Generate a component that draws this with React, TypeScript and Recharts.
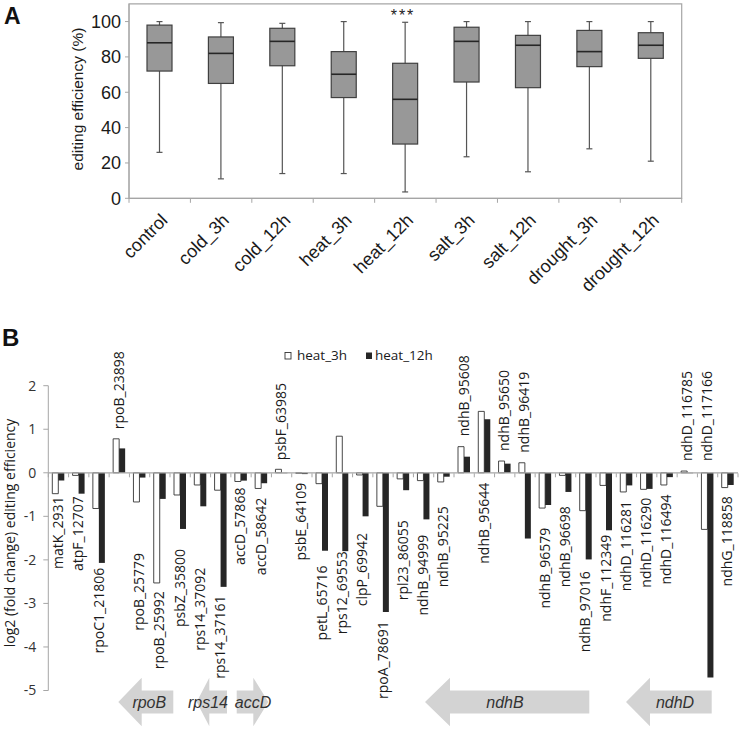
import React from 'react';
import { ComposedChart, Bar, Line, XAxis, YAxis, ReferenceLine, ReferenceArea, LabelList } from 'recharts';

// panel A: editing efficiency per condition (box plot)
const conditions = ['control', 'cold_3h', 'cold_12h', 'heat_3h', 'heat_12h', 'salt_3h', 'salt_12h', 'drought_3h', 'drought_12h'];
const boxMin = [26, 11, 14, 14, 3.6, 23.5, 15, 28, 21];
const boxQ1 = [72, 65, 75, 57, 30.7, 65.8, 62.6, 74.5, 79.2];
const boxMedian = [88, 82, 88.8, 70.2, 56, 88.8, 86.6, 83, 86.6];
const boxQ3 = [98, 91.3, 96.2, 83, 76.4, 96.8, 92.2, 95, 93.7];
const boxMax = [100, 99.4, 99, 100, 99.6, 100, 100, 100, 100];
const yTicksA = [0, 20, 40, 60, 80, 100];

// panel B: log2 fold change per editing site
const sites = [
  'matK_2931', 'atpF_12707', 'rpoC1_21806', 'rpoB_23898', 'rpoB_25779', 'rpoB_25992', 'psbZ_35800',
  'rps14_37092', 'rps14_37161', 'accD_57868', 'accD_58642', 'psbF_63985', 'psbE_64109', 'petL_65716',
  'rps12_69553', 'clpP_69942', 'rpoA_78691', 'rpl23_86055', 'ndhB_94999', 'ndhB_95225', 'ndhB_95608',
  'ndhB_95644', 'ndhB_95650', 'ndhB_96419', 'ndhB_96579', 'ndhB_96698', 'ndhB_97016', 'ndhF_112349',
  'ndhD_116281', 'ndhD_116290', 'ndhD_116494', 'ndhD_116785', 'ndhD_117166', 'ndhG_118858',
];
const heat3h = [-0.48, -0.06, -0.82, 0.78, -0.67, -2.53, -0.51, -0.28, -0.4, -0.2, -0.36, 0.08, -0.01, -0.25, 0.84, -0.05, -0.77, -0.14, -0.18, -0.21, 0.6, 1.41, 0.27, 0.23, -0.81, -0.06, -0.87, -0.29, -0.44, -0.38, -0.28, 0.04, -1.3, -0.34];
const heat12h = [-0.18, -0.48, -2.07, 0.56, -0.11, -0.6, -1.29, -0.77, -2.62, -0.18, -0.24, -0.01, -0.03, -1.79, -1.8, -1.0, -3.2, -0.4, -1.07, -0.09, 0.37, 1.23, 0.21, -1.51, -0.74, -0.44, -1.99, -1.32, -0.29, -0.37, -0.1, -0.01, -4.7, -0.28];
const yTicksB = [-5, -4, -3, -2, -1, 0, 1, 2];

// where each site label sits (in y units); >0 = label above, <0 = label below
const labelAnchor = [-0.545, -0.54, -2.18, 1.0, -1.84, -2.72, -1.75, -2.18, -2.82, -0.34, -0.57, 0.29, -0.23, -2.13, -1.8, -1.38, -3.41, -1.09, -1.42, -0.77, 0.84, -0.23, 0.5, 0.46, -1.26, -0.77, -2.26, -1.42, -0.65, -0.57, -0.5, 0.27, 0.27, -0.54];

const dataA = conditions.map((name, i) => ({
  name, min: boxMin[i], q1: boxQ1[i], median: boxMedian[i], q3: boxQ3[i], max: boxMax[i],
}));
const dataB = sites.map((name, i) => ({ name, h3: heat3h[i], h12: heat12h[i], lab: labelAnchor[i] }));

// layout
const A_LEFT = 129, A_RIGHT = 681.7, A_AXIS_Y = 198.3;
const B_TOP = 330, B_LEFT = 48.3, B_RIGHT = 738, B_ZERO_Y = 473.3;
const GRAY = '#a6a6a6';

const BoxShape = (props: any) => {
  const { x, y, width, height, payload } = props;
  const top = Math.min(y, y + height);
  const bottom = Math.max(y, y + height);
  const span = payload.max - payload.min;
  const py = (v: number) => bottom - ((v - payload.min) / span) * (bottom - top);
  const cx = x + width / 2;
  return (
    <g>
      <line x1={cx} x2={cx} y1={top} y2={bottom} stroke="#555" strokeWidth={1.2} />
      <line x1={cx - 3} x2={cx + 3} y1={top} y2={top} stroke="#555" strokeWidth={1.2} />
      <line x1={cx - 3} x2={cx + 3} y1={bottom} y2={bottom} stroke="#555" strokeWidth={1.2} />
      <rect x={x} y={py(payload.q3)} width={width} height={py(payload.q1) - py(payload.q3)} fill="#989898" stroke="#404040" strokeWidth={1.2} />
      <line x1={x} x2={x + width} y1={py(payload.median)} y2={py(payload.median)} stroke="#262626" strokeWidth={1.6} />
    </g>
  );
};

const ConditionTick = (props: any) => {
  const { x, y, payload } = props;
  const ax = x + 9;
  const ay = y + 23;
  return (
    <text x={ax} y={ay} transform={`rotate(-45 ${ax} ${ay})`} textAnchor="end" fontSize={18} fill="#1a1a1a">
      {payload.value}
    </text>
  );
};

const SiteLabel = (props: any) => {
  const { x, y, value, index } = props;
  const above = labelAnchor[index] > 0;
  const lx = x + 4.5;
  return (
    <text x={lx} y={y} transform={`rotate(-90 ${lx} ${y})`} textAnchor={above ? 'start' : 'end'} fontSize={14} fill="#1a1a1a">
      {value}
    </text>
  );
};

function leftArrow(tip: number, back: number, right: number) {
  const cy = 702;
  const hh = 24.3, bh = 11.5;
  return `${tip},${cy} ${back},${cy - hh} ${back},${cy - bh} ${right},${cy - bh} ${right},${cy + bh} ${back},${cy + bh} ${back},${cy + hh}`;
}
function rightArrow(left: number, back: number, tip: number) {
  const cy = 702;
  const hh = 24.3, bh = 11.5;
  return `${tip},${cy} ${back},${cy - hh} ${back},${cy - bh} ${left},${cy - bh} ${left},${cy + bh} ${back},${cy + bh} ${back},${cy + hh}`;
}

export default function App() {
  const bandA = (A_RIGHT - A_LEFT) / conditions.length;
  const bandB = (B_RIGHT - B_LEFT) / sites.length;
  return (
    <div style={{ position: 'relative', width: 742, height: 731, background: '#fff', overflow: 'hidden' }}>
      <style>{'body{margin:0}'}</style>

      <div style={{ position: 'absolute', left: 0, top: 0, fontFamily: '"Liberation Sans", Arial, sans-serif' }}>
        <ComposedChart
          width={742}
          height={300}
          data={dataA}
          margin={{ top: 3.9, right: 742 - A_RIGHT, bottom: 300 - A_AXIS_Y - 60, left: A_LEFT - 60 }}
        >
          <XAxis dataKey="name" height={60} tickLine={false} tickSize={0} tickMargin={0} axisLine={{ stroke: GRAY }} tick={<ConditionTick />} interval={0} />
          <YAxis
            width={60}
            domain={[0, 110]}
            ticks={yTicksA}
            tickSize={4}
            tickMargin={4}
            tickLine={{ stroke: GRAY }}
            axisLine={{ stroke: GRAY }}
            tick={{ fontSize: 18, fill: '#1a1a1a' }}
          />
          <ReferenceArea y1={0} y2={110} fill="none" stroke={GRAY} strokeWidth={1.2} />
          <Bar dataKey={(d: any) => [d.min, d.max]} barSize={25} shape={<BoxShape />} isAnimationActive={false} />
        </ComposedChart>
      </div>

      <div style={{ position: 'absolute', left: 0, top: B_TOP, fontFamily: '"Open Sans", sans-serif' }}>
        <ComposedChart
          width={742}
          height={401}
          data={dataB}
          barGap={0}
          margin={{ top: 385.7 - B_TOP, right: 742 - B_RIGHT, bottom: 40.5, left: B_LEFT - 40 }}
        >
          <XAxis dataKey="name" hide />
          <YAxis
            width={40}
            domain={[-5, 2]}
            ticks={yTicksB}
            tickSize={5}
            tickMargin={7}
            tickLine={{ stroke: GRAY }}
            axisLine={{ stroke: GRAY }}
            tick={{ fontSize: 14, fill: '#333' }}
          />
          <ReferenceLine y={0} stroke={GRAY} strokeWidth={1.2} />
          <Bar dataKey="h3" barSize={6} fill="#ffffff" stroke="#333" strokeWidth={0.9} isAnimationActive={false} />
          <Bar dataKey="h12" barSize={6} fill="#262626" isAnimationActive={false} />
          <Line dataKey="lab" stroke="none" dot={false} activeDot={false} isAnimationActive={false}>
            <LabelList dataKey="name" content={<SiteLabel />} />
          </Line>
        </ComposedChart>
      </div>

      <svg width={742} height={731} style={{ position: 'absolute', left: 0, top: 0, pointerEvents: 'none' }}>
        <text x={4} y={24} fontSize={23} fontWeight="bold" fontFamily='"Liberation Sans", Arial, sans-serif' fill="#111">A</text>
        <text x={2} y={346} fontSize={24} fontWeight="bold" fontFamily='"Liberation Sans", Arial, sans-serif' fill="#111">B</text>

        <text x={83} y={99} transform="rotate(-90 83 99)" textAnchor="middle" fontSize={15.5} fontFamily='"Liberation Sans", Arial, sans-serif' fill="#1a1a1a">
          editing efficiency (%)
        </text>
        <text x={403} y={21} textAnchor="middle" fontSize={16} letterSpacing={2} fontFamily='"Liberation Sans", Arial, sans-serif' fill="#222">***</text>
        {Array.from({ length: conditions.length + 1 }, (_, i) => (
          <line key={`ta${i}`} x1={A_LEFT + i * bandA} x2={A_LEFT + i * bandA} y1={A_AXIS_Y} y2={A_AXIS_Y + 4.5} stroke={GRAY} />
        ))}

        {Array.from({ length: sites.length + 1 }, (_, i) => (
          <line key={`tb${i}`} x1={B_LEFT + i * bandB} x2={B_LEFT + i * bandB} y1={B_ZERO_Y} y2={B_ZERO_Y + 4} stroke={GRAY} />
        ))}
        <text x={15} y={533} transform="rotate(-90 15 533)" textAnchor="middle" fontSize={14} fontFamily='"Open Sans", sans-serif' fill="#1a1a1a">
          log2 (fold change) editing efficiency
        </text>

        <g fontFamily='"Open Sans", sans-serif' fontSize={13.5} fill="#1a1a1a">
          <rect x={285} y={352.5} width={6} height={6.5} fill="#fff" stroke="#333" strokeWidth={0.9} />
          <text x={297} y={360}>heat_3h</text>
          <rect x={366} y={352.5} width={6} height={6.5} fill="#262626" />
          <text x={375} y={360}>heat_12h</text>
        </g>

        <g fill="#d3d3d3">
          <polygon points={leftArrow(118.3, 141.7, 173.3)} />
          <polygon points={leftArrow(196.7, 209.3, 227)} />
          <polygon points={rightArrow(236.7, 253.3, 268.3)} />
          <polygon points={leftArrow(425, 450, 589.3)} />
          <polygon points={leftArrow(626, 650, 711.7)} />
        </g>
        <g fontFamily='"Liberation Sans", Arial, sans-serif' fontStyle="italic" fontSize={16} fill="#333" textAnchor="middle">
          <text x={149.3} y={707.5}>rpoB</text>
          <text x={208} y={707.5}>rps14</text>
          <text x={253} y={707.5}>accD</text>
          <text x={505} y={707.5}>ndhB</text>
          <text x={675} y={707.5}>ndhD</text>
        </g>
      </svg>
    </div>
  );
}
